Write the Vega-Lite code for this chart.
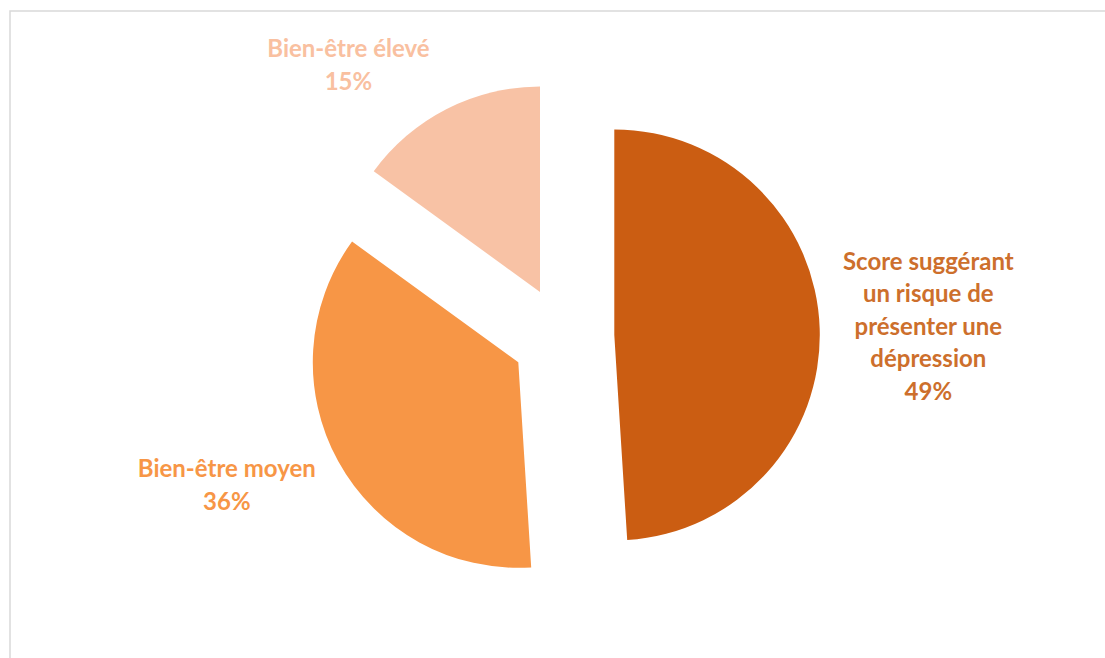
{
  "$schema": "https://vega.github.io/schema/vega-lite/v6.json",
  "width": 1105,
  "height": 658,
  "autosize": {"type": "fit", "contains": "padding"},
  "padding": {"left": 10, "top": 11, "right": -2, "bottom": -2},
  "background": "white",
  "view": {"stroke": "#d9d9d9", "strokeWidth": 1.5},
  "config": {"view": {"stroke": "#d9d9d9", "strokeWidth": 1.5}},
  "data": {
    "values": [
      {"category": "Score suggérant|un risque de|présenter une|dépression", "value": 49},
      {"category": "Bien-être moyen", "value": 36},
      {"category": "Bien-être élevé", "value": 15}
    ]
  },
  "transform": [
    {"stack": "value", "groupby": [], "as": ["s0", "s1"], "sort": [{"field": "value", "order": "descending"}]},
    {"calculate": "(datum.s0 + datum.s1) / 2", "as": "mid"},
    {"calculate": "datum.category + '|' + datum.value + '%'", "as": "txt"}
  ],
  "layer": [
    {
      "transform": [{"filter": "datum.value == 49"}],
      "mark": {"type": "arc", "radius": 205.5, "xOffset": 55.8, "yOffset": -0.5, "color": "#CB5D12"},
      "encoding": {
        "theta": {"field": "s0", "type": "quantitative", "scale": {"domain": [0, 100]}},
        "theta2": {"field": "s1"}
      }
    },
    {
      "transform": [{"filter": "datum.value == 36"}],
      "mark": {"type": "arc", "radius": 205.5, "xOffset": -40.2, "yOffset": 26.8, "color": "#F79646"},
      "encoding": {
        "theta": {"field": "s0", "type": "quantitative", "scale": {"domain": [0, 100]}},
        "theta2": {"field": "s1"}
      }
    },
    {
      "transform": [{"filter": "datum.value == 15"}],
      "mark": {"type": "arc", "radius": 205.5, "xOffset": -18.5, "yOffset": -43.5, "color": "#F8C2A5"},
      "encoding": {
        "theta": {"field": "s0", "type": "quantitative", "scale": {"domain": [0, 100]}},
        "theta2": {"field": "s1"}
      }
    },
    {
      "transform": [{"filter": "datum.value == 49"}],
      "mark": {"type": "text", "font": "Lato", "fontWeight": "bold", "fontSize": 24, "lineBreak": "|", "lineHeight": 32.5, "align": "center", "baseline": "middle", "radius": 371, "xOffset": -1, "yOffset": -61, "color": "#CD6F2C"},
      "encoding": {
        "theta": {"field": "mid", "type": "quantitative", "scale": {"domain": [0, 100]}},
        "text": {"field": "txt"}
      }
    },
    {
      "transform": [{"filter": "datum.value == 36"}],
      "mark": {"type": "text", "font": "Lato", "fontWeight": "bold", "fontSize": 24, "lineBreak": "|", "lineHeight": 32.5, "align": "center", "baseline": "middle", "radius": 363, "xOffset": -13.6, "yOffset": -40, "color": "#F79646"},
      "encoding": {
        "theta": {"field": "mid", "type": "quantitative", "scale": {"domain": [0, 100]}},
        "text": {"field": "txt"}
      }
    },
    {
      "transform": [{"filter": "datum.value == 15"}],
      "mark": {"type": "text", "font": "Lato", "fontWeight": "bold", "fontSize": 24, "lineBreak": "|", "lineHeight": 32.5, "align": "center", "baseline": "middle", "radius": 335, "xOffset": -58, "yOffset": 13, "color": "#F9C0A0"},
      "encoding": {
        "theta": {"field": "mid", "type": "quantitative", "scale": {"domain": [0, 100]}},
        "text": {"field": "txt"}
      }
    }
  ]
}
